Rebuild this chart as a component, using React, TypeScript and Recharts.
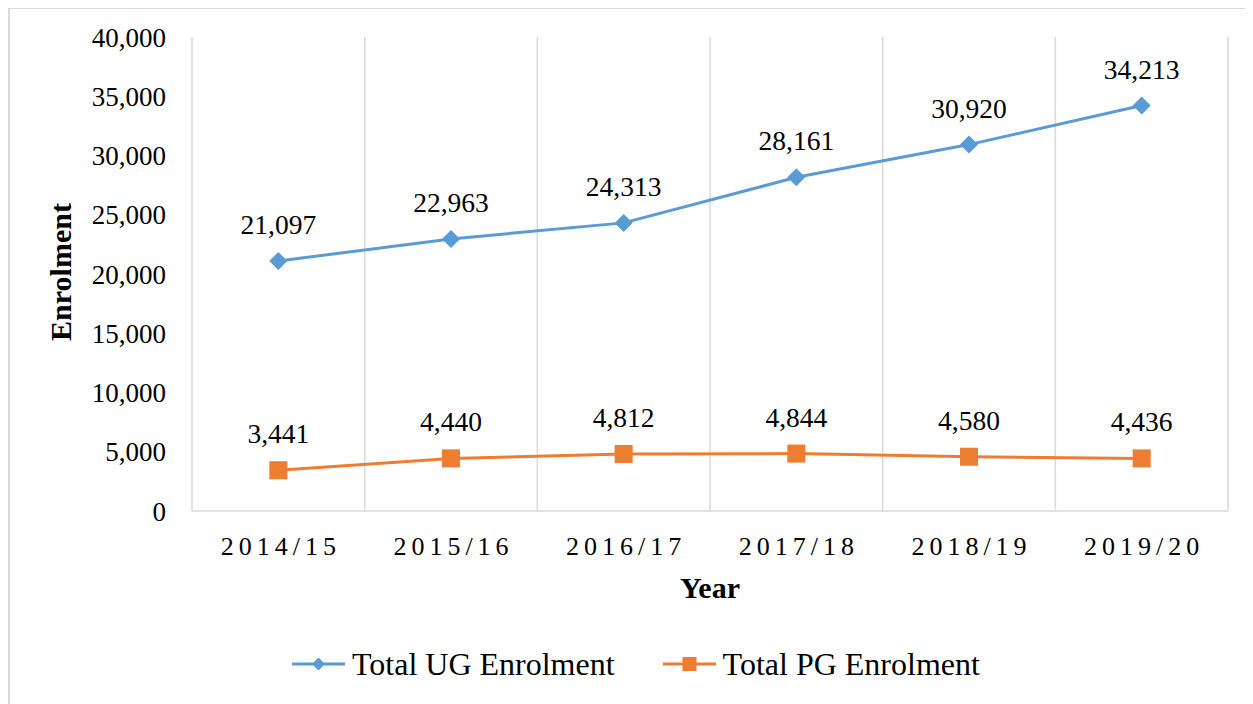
import { LineChart, Line, XAxis, YAxis, CartesianGrid, LabelList, Legend, Label } from 'recharts';

const FONT = '"Liberation Serif", "Times New Roman", serif';
const UG_COLOR = '#5B9BD5';
const PG_COLOR = '#ED7D31';
const GRID_COLOR = '#d9d9d9';

// data
const years = ['2014/15', '2015/16', '2016/17', '2017/18', '2018/19', '2019/20'];
const ugEnrolment = [21097, 22963, 24313, 28161, 30920, 34213];
const pgEnrolment = [3441, 4440, 4812, 4844, 4580, 4436];
const yTicks = [0, 5000, 10000, 15000, 20000, 25000, 30000, 35000, 40000];
// category boundaries used for the vertical gridlines
const bandEdges = [0, 1, 2, 3, 4, 5, 6];

const data = years.map((year, i) => ({
  year,
  ug: ugEnrolment[i],
  pg: pgEnrolment[i],
}));

const fmt = (v: number) => v.toLocaleString('en-US');

const DiamondDot = (props: any) => {
  const { cx, cy, index } = props;
  if (cx == null || cy == null) return null;
  const r = 9;
  return (
    <path
      key={`ug-dot-${index}`}
      d={`M${cx},${cy - r} L${cx + r},${cy} L${cx},${cy + r} L${cx - r},${cy} Z`}
      fill={UG_COLOR}
    />
  );
};

const SquareDot = (props: any) => {
  const { cx, cy, index } = props;
  if (cx == null || cy == null) return null;
  const s = 18;
  return <rect key={`pg-dot-${index}`} x={cx - s / 2} y={cy - s / 2} width={s} height={s} fill={PG_COLOR} />;
};

const ValueLabel = (props: any) => {
  const { x, y, value } = props;
  return (
    <text x={x} y={y - 27} textAnchor="middle" fontSize={27.5} style={{ fontFamily: FONT }} fill="#000">
      {fmt(value)}
    </text>
  );
};

const YearTick = (props: any) => {
  const { x, y, payload } = props;
  return (
    <text x={x + 2.5} y={y} dy="0.71em" textAnchor="middle" fontSize={26} style={{ fontFamily: FONT }} fill="#000" letterSpacing={5}>
      {payload.value}
    </text>
  );
};

const ValueTick = (props: any) => {
  const { x, y, payload } = props;
  return (
    <text x={x} y={y} dy="0.355em" textAnchor="end" fontSize={27} style={{ fontFamily: FONT }} fill="#000">
      {fmt(payload.value)}
    </text>
  );
};

const legendItems = [
  { name: 'Total UG Enrolment', color: UG_COLOR, shape: 'diamond' },
  { name: 'Total PG Enrolment', color: PG_COLOR, shape: 'square' },
];

const LegendContent = () => (
  <div style={{ display: 'flex', height: 40, lineHeight: '40px', paddingLeft: 282, fontFamily: FONT, fontSize: 32, color: '#000' }}>
    {legendItems.map((item, i) => (
      <div key={item.name} style={{ display: 'flex', alignItems: 'center', marginLeft: i === 0 ? 0 : 48 }}>
        <svg width={53} height={20} style={{ marginRight: 7 }}>
          <line x1={0} y1={10} x2={53} y2={10} stroke={item.color} strokeWidth={3} />
          {item.shape === 'diamond' ? (
            <path d="M26.5,3.5 L33,10 L26.5,16.5 L20,10 Z" fill={item.color} />
          ) : (
            <rect x={19.5} y={3} width={14} height={14} fill={item.color} />
          )}
        </svg>
        <span>{item.name}</span>
      </div>
    ))}
  </div>
);

export default function App() {
  return (
    <div
      style={{
        width: 1243,
        height: 695,
        marginTop: -1,
        borderTop: `2px solid ${GRID_COLOR}`,
        borderLeft: `2px solid ${GRID_COLOR}`,
        overflow: 'hidden',
        background: '#fff',
      }}
    >
      <LineChart width={1243} height={695} data={data} margin={{ top: 28, right: 25, left: 0, bottom: 0 }}>
        <CartesianGrid
          horizontal={false}
          stroke={GRID_COLOR}
          strokeWidth={1.5}
          verticalCoordinatesGenerator={({ offset }: any) =>
            bandEdges.map((i) => offset.left + (i * offset.width) / years.length)
          }
        />
        <XAxis
          dataKey="year"
          scale="band"
          height={133}
          axisLine={{ stroke: GRID_COLOR, strokeWidth: 1.5 }}
          tickLine={false}
          tickMargin={20}
          tick={<YearTick />}
          interval={0}
        >
          <Label
            content={(props: any) => {
              const vb = props.viewBox;
              return (
                <text x={vb.x + vb.width / 2} y={vb.y + 87} textAnchor="middle" fontSize={30} fontWeight="bold" style={{ fontFamily: FONT }} fill="#000">
                  Year
                </text>
              );
            }}
          />
        </XAxis>
        <YAxis
          width={182}
          domain={[0, 40000]}
          ticks={yTicks}
          axisLine={false}
          tickLine={false}
          tickMargin={20}
          tick={<ValueTick />}
        >
          <Label
            content={(props: any) => {
              const vb = props.viewBox;
              const cx = vb.x + 50;
              const cy = vb.y + vb.height / 2 - 2;
              return (
                <text
                  x={cx}
                  y={cy}
                  transform={`rotate(-90, ${cx}, ${cy})`}
                  textAnchor="middle"
                  dominantBaseline="central"
                  fontSize={30}
                  fontWeight="bold"
                  style={{ fontFamily: FONT }}
                  fill="#000"
                >
                  Enrolment
                </text>
              );
            }}
          />
        </YAxis>
        <Line dataKey="ug" name="Total UG Enrolment" stroke={UG_COLOR} strokeWidth={3} dot={<DiamondDot />} activeDot={false} isAnimationActive={false}>
          <LabelList dataKey="ug" content={<ValueLabel />} />
        </Line>
        <Line dataKey="pg" name="Total PG Enrolment" stroke={PG_COLOR} strokeWidth={3} dot={<SquareDot />} activeDot={false} isAnimationActive={false}>
          <LabelList dataKey="pg" content={<ValueLabel />} />
        </Line>
        <Legend verticalAlign="bottom" height={60} content={<LegendContent />} />
      </LineChart>
    </div>
  );
}
